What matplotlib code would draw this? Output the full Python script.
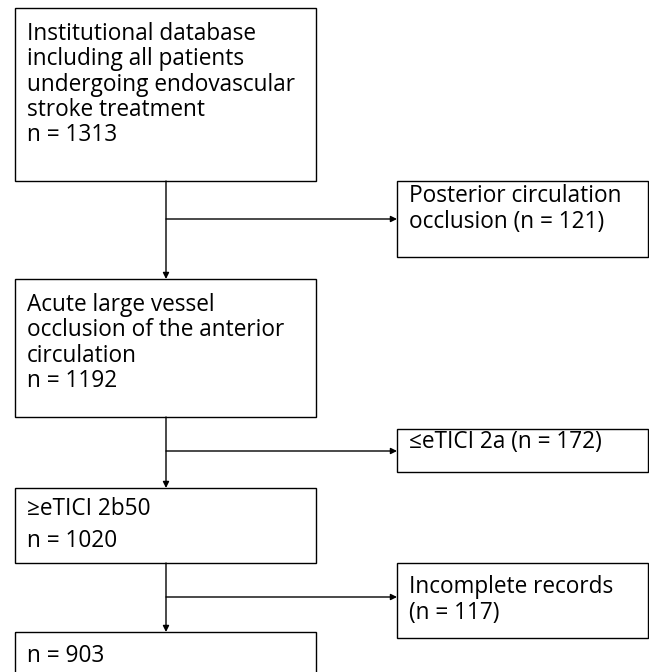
import matplotlib
matplotlib.use('Agg')
import matplotlib.pyplot as plt
from matplotlib.patches import Rectangle

# Flowchart content
MAIN_LINES = [
    ['Institutional database', 'including all patients', 'undergoing endovascular',
     'stroke treatment', 'n = 1313'],
    ['Acute large vessel', 'occlusion of the anterior', 'circulation', 'n = 1192'],
    ['\u2265eTICI 2b50', 'n = 1020'],
    ['n = 903'],
]
EXCL_LINES = [
    ['Posterior circulation', 'occlusion (n = 121)'],
    ['\u2264eTICI 2a (n = 172)'],
    ['Incomplete records', '(n = 117)'],
]

FONT = 'Open Sans'
FS = 16.3

# layout in pixel coordinates (y grows downward)
MAIN_BOX = [(15, 8, 316, 181), (15, 279, 316, 417), (15, 488, 316, 563), (15, 632, 316, 680)]
MAIN_BASE = [(40, 25.3), (311, 25.3), (515, 32), (662, 25)]
EXCL_BOX = [(397, 181, 648, 257), (397, 429, 648, 472), (397, 563, 648, 638)]
EXCL_BASE = [(202, 25.5), (448, 25), (593, 26)]
BRANCH_Y = [219, 451, 597]
STEM_X = 166

fig = plt.figure(figsize=(6.49, 6.72), dpi=100)
ax = fig.add_axes([0, 0, 1, 1])
ax.set_xlim(0, 649)
ax.set_ylim(672, 0)
ax.axis('off')


def draw_box(box, lines, base):
    x0, y0, x1, y1 = box
    ax.add_patch(Rectangle((x0, y0), x1 - x0, y1 - y0, fill=False,
                           edgecolor='black', linewidth=1.0))
    b0, step = base
    for i, line in enumerate(lines):
        ax.text(x0 + 12, b0 + i * step, line, fontsize=FS, family=[FONT, 'DejaVu Sans'],
                va='baseline', ha='left', color='black')


def arrow(x0, y0, x1, y1):
    ax.annotate('', xy=(x1, y1), xytext=(x0, y0),
                arrowprops=dict(arrowstyle='-|>', color='black', lw=1.0,
                                mutation_scale=9, shrinkA=0, shrinkB=0))


for box, lines, base in zip(MAIN_BOX, MAIN_LINES, MAIN_BASE):
    draw_box(box, lines, base)
for box, lines, base in zip(EXCL_BOX, EXCL_LINES, EXCL_BASE):
    draw_box(box, lines, base)

for i in range(3):
    arrow(STEM_X, MAIN_BOX[i][3], STEM_X, MAIN_BOX[i + 1][1])
    arrow(STEM_X, BRANCH_Y[i], EXCL_BOX[i][0], BRANCH_Y[i])

fig.savefig('out.png', dpi=100)
